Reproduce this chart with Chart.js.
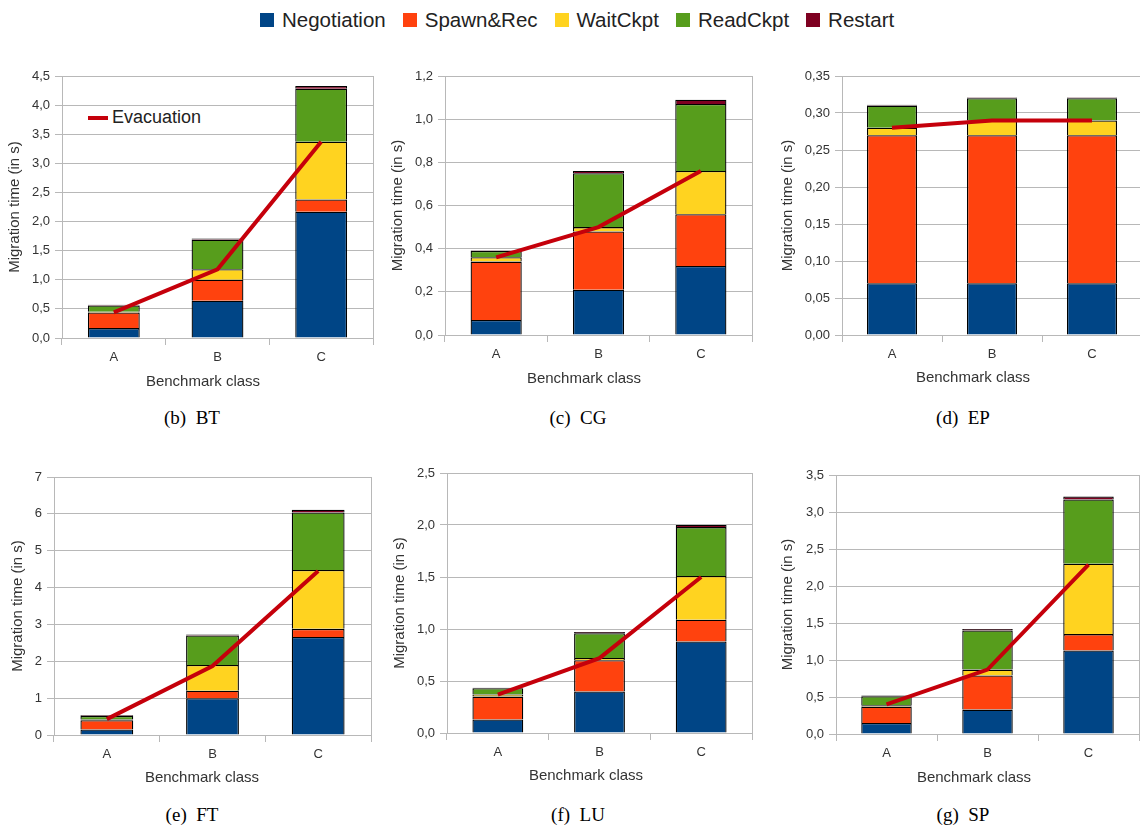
<!DOCTYPE html>
<html lang="en">
<head>
  <meta charset="UTF-8" />
  <title>Migration time per benchmark</title>
  <script src="https://cdn.jsdelivr.net/npm/chart.js"></script>
  <style>
    body {
      margin: 0;
      width: 1140px;
      height: 830px;
      overflow: hidden;
      position: relative;
      background: #fff;
      font-family: "Liberation Sans", Arial, sans-serif;
    }
    .legend {
      position: absolute;
      top: 8px;
      left: 260px;
      display: flex;
      gap: 17px;
      font-size: 20.5px;
      color: #222;
      white-space: nowrap;
    }
    .legend span.item { display: flex; align-items: center; gap: 8px; }
    .legend i { display: inline-block; width: 14px; height: 14px; }
    .panel { position: absolute; }
    .caption {
      position: absolute;
      font-family: "Liberation Serif", "Times New Roman", serif;
      font-size: 19px;
      line-height: 20px;
      color: #000;
      transform: translate(-50%, -50%);
      white-space: pre;
    }
    .xtitle {
      position: absolute;
      font-size: 15px;
      line-height: 16px;
      color: #333;
      transform: translate(-50%, -50%);
      white-space: nowrap;
    }
    .evac {
      position: absolute;
      left: 88px;
      top: 107px;
      display: flex;
      align-items: center;
      gap: 4px;
      font-size: 18px;
      color: #222;
    }
    .evac i { display: inline-block; width: 20px; height: 4px; background: #c5000b; }
  </style>
</head>
<body>
  <div class="legend" id="legend"></div>
  <div class="evac"><i></i>Evacuation</div>

  <script>
    // values, one row per benchmark, one column per class
    const benchmarks = ['BT', 'CG', 'EP', 'FT', 'LU', 'SP'];
    const panelLetters = ['b', 'c', 'd', 'e', 'f', 'g'];
    const classes = ['A', 'B', 'C'];

    const negotiation = [
      [0.17, 0.64, 2.17],
      [0.07, 0.21, 0.32],
      [0.07, 0.07, 0.07],
      [0.15, 1.00, 2.66],
      [0.13, 0.40, 0.88],
      [0.15, 0.33, 1.13]
    ];
    const spawnRec = [
      [0.27, 0.36, 0.21],
      [0.27, 0.27, 0.24],
      [0.20, 0.20, 0.20],
      [0.25, 0.20, 0.22],
      [0.22, 0.30, 0.21],
      [0.22, 0.46, 0.22]
    ];
    const waitCkpt = [
      [0.01, 0.18, 0.99],
      [0.02, 0.02, 0.20],
      [0.01, 0.02, 0.02],
      [0.02, 0.70, 1.60],
      [0.02, 0.02, 0.42],
      [0.02, 0.08, 0.95]
    ];
    const readCkpt = [
      [0.11, 0.51, 0.91],
      [0.03, 0.25, 0.31],
      [0.03, 0.03, 0.03],
      [0.10, 0.80, 1.56],
      [0.06, 0.24, 0.47],
      [0.12, 0.53, 0.87]
    ];
    const restart = [
      [0.01, 0.02, 0.05],
      [0.003, 0.01, 0.02],
      [0.001, 0.001, 0.001],
      [0.02, 0.03, 0.07],
      [0.005, 0.01, 0.02],
      [0.01, 0.02, 0.04]
    ];
    const evacuation = [
      [0.44, 1.18, 3.37],
      [0.36, 0.50, 0.76],
      [0.28, 0.29, 0.29],
      [0.43, 1.87, 4.45],
      [0.37, 0.72, 1.50],
      [0.40, 0.87, 2.29]
    ];

    const yMax = [4.5, 1.2, 0.35, 7, 2.5, 3.5];
    const yStep = [0.5, 0.2, 0.05, 1, 0.5, 0.5];
    const yDecimals = [1, 1, 2, 0, 1, 1];

    const seriesNames = ['Negotiation', 'Spawn&Rec', 'WaitCkpt', 'ReadCkpt', 'Restart'];
    const seriesData = [negotiation, spawnRec, waitCkpt, readCkpt, restart];
    const colors = ['#004586', '#ff420e', '#ffd320', '#579d1c', '#7e0021'];
    const lineColor = '#c5000b';
    const gridColor = '#b8b8b8';
    const textColor = '#333';

    // page layout: canvas box (x, y, right, bottom) and plot area (l, t, r, b)
    const boxes = [
      { x: 6,   y: 62,  right: 380,  bottom: 390, l: 62,  t: 76,  r: 373,  b: 338 },
      { x: 389, y: 62,  right: 760,  bottom: 387, l: 445, t: 76,  r: 752,  b: 335 },
      { x: 779, y: 62,  right: 1145, bottom: 387, l: 842, t: 76,  r: 1142, b: 335 },
      { x: 9,   y: 462, right: 380,  bottom: 787, l: 54,  t: 477, r: 371,  b: 735 },
      { x: 391, y: 459, right: 760,  bottom: 785, l: 447, t: 473, r: 752,  b: 733 },
      { x: 779, y: 461, right: 1145, bottom: 786, l: 836, t: 475, r: 1139, b: 734 }
    ];
    const captionPos = [[192, 418], [578, 418], [963, 418], [192, 815], [578, 815], [963, 815]];
    const xTitlePos = [[203, 381], [584, 378], [973, 377], [202, 777], [586, 775], [974, 777]];

    // shared legend
    const legend = document.getElementById('legend');
    seriesNames.forEach((name, k) => {
      const item = document.createElement('span');
      item.className = 'item';
      item.innerHTML = `<i style="background:${colors[k]}"></i>`;
      item.appendChild(document.createTextNode(name));
      legend.appendChild(item);
    });

    Chart.defaults.font.family = '"Liberation Sans", Arial, sans-serif';
    Chart.defaults.color = textColor;

    function addText(cls, pos, text) {
      const el = document.createElement('div');
      el.className = cls;
      el.style.left = pos[0] + 'px';
      el.style.top = pos[1] + 'px';
      el.textContent = text;
      document.body.appendChild(el);
    }

    benchmarks.forEach((bench, i) => {
      const box = boxes[i];
      const div = document.createElement('div');
      div.className = 'panel';
      div.style.left = box.x + 'px';
      div.style.top = box.y + 'px';
      div.style.width = (box.right - box.x) + 'px';
      div.style.height = (box.bottom - box.y) + 'px';
      const canvas = document.createElement('canvas');
      div.appendChild(canvas);
      document.body.appendChild(div);

      addText('caption', captionPos[i], `(${panelLetters[i]})  ${bench}`);
      addText('xtitle', xTitlePos[i], 'Benchmark class');

      const datasets = seriesNames.map((name, k) => ({
        type: 'bar',
        label: name,
        data: seriesData[k][i],
        backgroundColor: colors[k],
        borderColor: '#000',
        borderWidth: 1.3,
        categoryPercentage: 0.5,
        barPercentage: 1,
        order: 1
      }));
      datasets.push({
        type: 'line',
        label: 'Evacuation',
        data: evacuation[i],
        borderColor: lineColor,
        borderWidth: 4,
        pointRadius: 0,
        tension: 0,
        stack: 'evac',
        order: 0
      });

      new Chart(canvas, {
        type: 'bar',
        data: { labels: classes, datasets },
        options: {
          responsive: true,
          maintainAspectRatio: false,
          animation: false,
          layout: { padding: { top: box.t - box.y, right: box.right - box.r, left: 0, bottom: 0 } },
          plugins: { legend: { display: false }, tooltip: { enabled: false } },
          scales: {
            x: {
              stacked: true,
              offset: true,
              afterFit: s => { s.height = box.bottom - box.b; },
              grid: {
                offset: true,
                drawOnChartArea: true,
                color: ctx => ctx.type === 'tick' ? 'rgba(0,0,0,0)' : gridColor,
                tickColor: gridColor,
                tickLength: 7
              },
              border: { color: gridColor },
              ticks: { font: { size: 13 }, padding: 5, color: textColor }
            },
            y: {
              stacked: true,
              min: 0,
              max: yMax[i],
              afterFit: s => { s.width = box.l - box.x; },
              grid: { color: gridColor, tickColor: gridColor, tickLength: 7 },
              border: { color: gridColor },
              ticks: {
                stepSize: yStep[i],
                font: { size: 13 },
                padding: 5,
                color: textColor,
                callback: v => v.toFixed(yDecimals[i]).replace('.', ',')
              },
              title: {
                display: true,
                text: 'Migration time (in s)',
                font: { size: 15 },
                color: textColor,
                padding: { top: 0, bottom: 0 }
              }
            }
          }
        }
      });
    });
  </script>
</body>
</html>
